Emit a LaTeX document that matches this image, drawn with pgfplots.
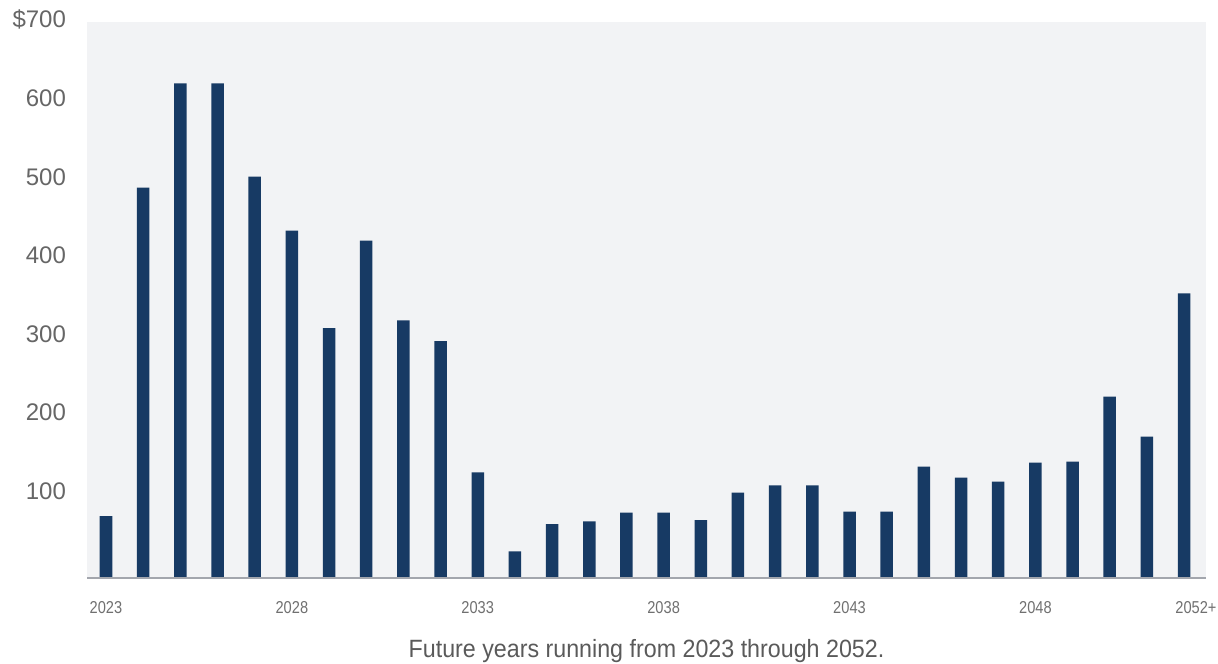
\documentclass[border=0pt]{standalone}
\usepackage{fontspec}
\setmainfont{Liberation Sans}
\newfontfamily\titlefont{Liberation Sans}[FakeStretch=0.93]
\newfontfamily\xfont{Liberation Sans}[FakeStretch=0.85]
\usepackage{pgfplots}
\pgfplotsset{compat=1.18}
\definecolor{barblue}{HTML}{173A64}
\definecolor{bgc}{HTML}{F2F3F5}
\definecolor{basel}{HTML}{A3A6AD}
\definecolor{ylab}{HTML}{666666}
\definecolor{xlab}{HTML}{707070}
\definecolor{tlab}{HTML}{5A5A5A}
\begin{document}
\begin{tikzpicture}
\begin{axis}[
 scale only axis, width=559.35pt, height=278pt,
 xmin=-0.503, xmax=29.59, ymin=0, ymax=707.6,
 axis line style={draw=none},
 axis background/.style={fill=bgc},
 major tick length=0pt,
 ytick={100,200,300,400,500,600,700},
 yticklabels={100,200,300,400,500,600,\$700},
 yticklabel style={anchor=base east, inner sep=0pt, xshift=-10.5pt, font=\fontsize{12}{12}\selectfont, text=ylab},
 xtick={0,5,10,15,20,25,29.32},
 xticklabels={2023,2028,2033,2038,2043,2048,2052+},
 xticklabel style={anchor=base, inner sep=0pt, yshift=-17.5pt, font=\xfont\fontsize{8.6}{8.6}\selectfont, text=xlab},
 ybar, bar width=6.25pt,
 clip=false,
]
\addplot[fill=barblue, draw=none] coordinates {
 (0,78.9) (1,496.7) (2,629.5) (3,629.5) (4,510.7) (5,442.0) (6,318.1) (7,429.2) (8,327.9) (9,301.6)
 (10,134.3) (11,34.0) (12,68.7) (13,72.2) (14,83.1) (15,83.1) (16,73.8) (17,108.6) (18,118.0) (19,118.0)
 (20,84.6) (21,84.6) (22,141.6) (23,127.6) (24,122.5) (25,146.7) (26,148.0) (27,230.7) (28,179.8) (29,362.3)
};
\draw[basel, line width=0.8pt] (rel axis cs:0,0) -- (rel axis cs:1,0);
\end{axis}
\node[anchor=base, font=\titlefont\fontsize{12.5}{12.5}\selectfont, text=tlab] at (279.6pt,-39.5pt) {Future years running from 2023 through 2052.};
\pgfresetboundingbox
\path[use as bounding box] (-43.65pt,-42.5pt) rectangle (565.35pt,289pt);
\end{tikzpicture}
\end{document}
